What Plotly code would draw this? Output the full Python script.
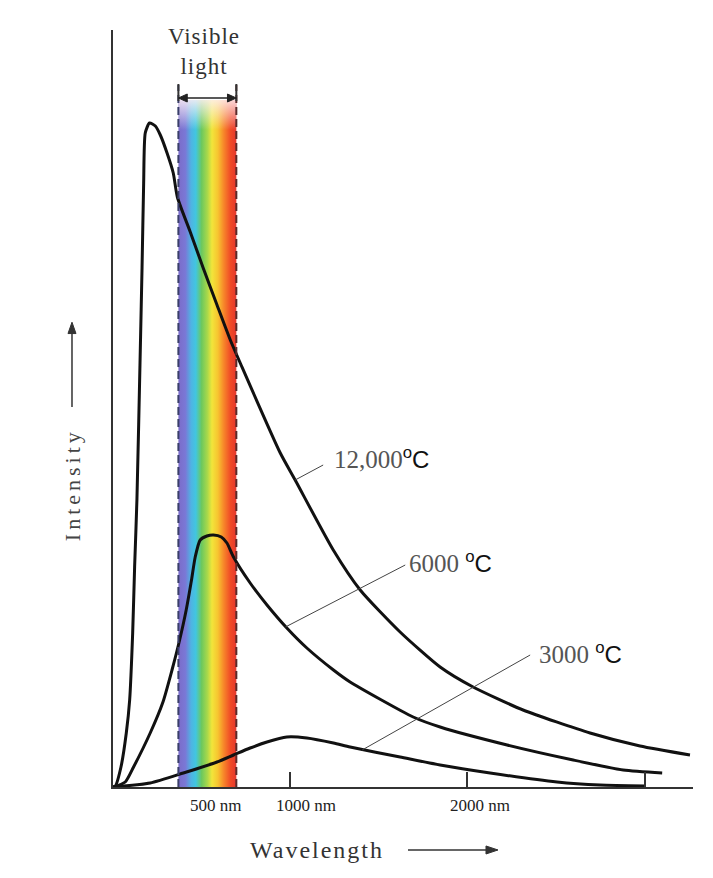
import plotly.graph_objects as go

# ---- data (wavelength in nm, intensity in arbitrary units) ----
wl_12000 = [0, 13, 45, 75, 94, 111, 122, 135, 154, 164, 173, 182, 206, 239, 267, 305, 340, 363, 436, 509, 587, 662, 718, 944, 1028, 1243, 1395, 1620, 1846, 2032, 2314, 2692, 2974, 3256]
int_12000 = [0, 1, 20, 54, 87, 154, 220, 287, 437, 520, 604, 654, 664, 661, 652, 634, 614, 590, 555, 519, 482, 447, 424, 334, 307, 237, 197, 155, 120, 100, 77, 54, 41, 32]

wl_6000 = [0, 69, 116, 210, 282, 333, 376, 413, 443, 464, 492, 530, 567, 611, 643, 680, 774, 869, 981, 1094, 1244, 1338, 1694, 1846, 2224, 2597, 2879, 3099]
int_6000 = [0, 5, 20, 54, 85, 117, 147, 177, 207, 230, 247, 251, 252, 250, 244, 230, 204, 182, 159, 139, 117, 105, 70, 60, 42, 27, 17, 14]

wl_3000 = [0, 210, 397, 587, 680, 774, 869, 981, 1094, 1244, 1338, 1620, 1846, 2128, 2506, 2749, 3003]
int_3000 = [0, 4, 14, 25, 32, 39, 45, 50, 49, 44, 40, 30, 22, 14, 5, 2, 1]

curve_labels = ["12,000", "6000 ", "3000 "]
tick_values = [1000, 2000, 3000]
tick_label_text = ["500 nm", "1000 nm", "2000 nm"]
tick_label_pos = [577, 1087, 2072]
visible_band = [369, 696]   # nm
band_top = 687
x_range = [0, 3273]
y_range = [0, 757]

SERIF = "Liberation Serif, Times New Roman, serif"
rainbow = [[0.0, "#7b6cc9"], [0.12, "#7a78d6"], [0.22, "#4fb3e3"], [0.30, "#41c6e0"],
           [0.40, "#6cc85e"], [0.50, "#a9d84a"], [0.58, "#f2e53a"], [0.68, "#f7c530"],
           [0.78, "#f7882a"], [0.90, "#f04a26"], [1.0, "#e5382e"]]

fig = go.Figure()

# rainbow band
fig.add_trace(go.Scatter(
    x=[visible_band[0], visible_band[1], visible_band[1], visible_band[0], visible_band[0]],
    y=[0, 0, band_top, band_top, 0], mode="none", fill="toself",
    fillgradient=dict(type="horizontal", colorscale=rainbow,
                      start=visible_band[0], stop=visible_band[1]),
    hoverinfo="skip", showlegend=False))
# pale fade at top of band
fig.add_trace(go.Scatter(
    x=[visible_band[0], visible_band[1], visible_band[1], visible_band[0], visible_band[0]],
    y=[band_top - 30, band_top - 30, band_top, band_top, band_top - 30], mode="none", fill="toself",
    fillgradient=dict(type="vertical",
                      colorscale=[[0, "rgba(255,255,255,0)"], [1, "rgba(255,240,245,0.85)"]],
                      start=band_top - 30, stop=band_top),
    hoverinfo="skip", showlegend=False))

for wl, it in [(wl_12000, int_12000), (wl_6000, int_6000), (wl_3000, int_3000)]:
    fig.add_trace(go.Scatter(x=wl, y=it, mode="lines",
                             line=dict(color="#111111", width=3, shape="spline", smoothing=0.6),
                             hoverinfo="skip", showlegend=False))

shapes = []
# dashed edges of visible band
for xv, col in [(visible_band[0], "#3a3f6a"), (visible_band[1], "#5a2a2a")]:
    shapes.append(dict(type="line", xref="x", yref="y", x0=xv, x1=xv, y0=0, y1=702,
                       line=dict(color=col, width=2, dash="8px,4px")))
    shapes.append(dict(type="line", xref="x", yref="y", x0=xv, x1=xv, y0=686, y1=703,
                       line=dict(color="#333333", width=2)))
# leader lines
for (x0, y0, x1, y1) in [(1028, 307, 1186, 322), (973, 160, 1649, 222), (1406, 37, 2354, 132)]:
    shapes.append(dict(type="line", xref="x", yref="y", x0=x0, y0=y0, x1=x1, y1=y1,
                       line=dict(color="#444444", width=1)))

# double arrow over the visible band (data coordinates)
ay_band = 689
shapes.append(dict(type="line", xref="x", yref="y", x0=visible_band[0] + 20, x1=visible_band[1] - 20,
                   y0=ay_band, y1=ay_band, line=dict(color="#222222", width=1.5)))
a, b = visible_band
shapes.append(dict(type="path", xref="x", yref="y",
                   path=f"M {a},{ay_band} L {a+50},{ay_band+4} L {a+50},{ay_band-4} Z",
                   fillcolor="#222222", line=dict(color="#222222", width=1)))
shapes.append(dict(type="path", xref="x", yref="y",
                   path=f"M {b},{ay_band} L {b-50},{ay_band+4} L {b-50},{ay_band-4} Z",
                   fillcolor="#222222", line=dict(color="#222222", width=1)))

# axis-title arrows (paper coordinates)
ix = -0.0707
shapes.append(dict(type="line", xref="paper", yref="paper", x0=ix, x1=ix, y0=0.502, y1=0.600,
                   line=dict(color="#333333", width=1.5)))
shapes.append(dict(type="path", xref="paper", yref="paper",
                   path=f"M {ix},0.614 L {ix-0.0069},0.599 L {ix+0.0069},0.599 Z",
                   fillcolor="#333333", line=dict(color="#333333", width=1)))
wy = -0.0832
shapes.append(dict(type="line", xref="paper", yref="paper", x0=0.5086, x1=0.645, y0=wy, y1=wy,
                   line=dict(color="#333333", width=1.5)))
shapes.append(dict(type="path", xref="paper", yref="paper",
                   path=f"M 0.6638,{wy} L 0.6431,{wy+0.0053} L 0.6431,{wy-0.0053} Z",
                   fillcolor="#333333", line=dict(color="#333333", width=1)))

deg = '<span style="font-family:Liberation Sans, Arial; font-size:24px; fill:#111"><sup>o</sup>C</span>'
lab_font = dict(family=SERIF, size=25, color="#555555")
annotations = [
    dict(x=1235, y=329, xref="x", yref="y", text=curve_labels[0] + deg, showarrow=False,
         xanchor="left", yanchor="middle", font=lab_font),
    dict(x=1658, y=225, xref="x", yref="y", text=curve_labels[1] + deg, showarrow=False,
         xanchor="left", yanchor="middle", font=lab_font),
    dict(x=2391, y=134, xref="x", yref="y", text=curve_labels[2] + deg, showarrow=False,
         xanchor="left", yanchor="middle", font=lab_font),
    dict(x=515, y=736, xref="x", yref="y",
         text='<span style="letter-spacing:1px">Visible</span><br><span style="letter-spacing:1px">light</span>',
         showarrow=False, xanchor="center", yanchor="middle",
         font=dict(family=SERIF, size=23, color="#333333")),
    dict(x=ix, y=0.400, xref="paper", yref="paper", xanchor="center", yanchor="middle",
         text='<span style="letter-spacing:4px">Intensity</span>', showarrow=False,
         textangle=-90, font=dict(family=SERIF, size=22, color="#444444")),
    dict(x=0.351, y=wy, xref="paper", yref="paper", xanchor="center", yanchor="middle",
         text='<span style="letter-spacing:2px">Wavelength</span>', showarrow=False,
         font=dict(family=SERIF, size=24, color="#333333")),
]
for txt, pos in zip(tick_label_text, tick_label_pos):
    annotations.append(dict(x=pos, y=-0.0247, xref="x", yref="paper", text=txt, showarrow=False,
                            xanchor="center", yanchor="middle",
                            font=dict(family=SERIF, size=17, color="#222222")))

fig.update_layout(
    width=713, height=878,
    margin=dict(l=113, r=20, t=30, b=91),
    paper_bgcolor="white", plot_bgcolor="white",
    shapes=shapes, annotations=annotations,
    xaxis=dict(range=x_range, showgrid=False, zeroline=False, showline=True,
               linecolor="#333333", linewidth=1.5, tickvals=tick_values, showticklabels=False,
               ticks="inside", ticklen=15, tickwidth=1.5, tickcolor="#333333", fixedrange=True),
    yaxis=dict(range=y_range, showgrid=False, zeroline=False, showline=True,
               linecolor="#333333", linewidth=1.5, showticklabels=False, ticks="", fixedrange=True),
)

fig.write_html("out.html", config={"displayModeBar": False},
               post_script="document.body.style.margin='0';")
